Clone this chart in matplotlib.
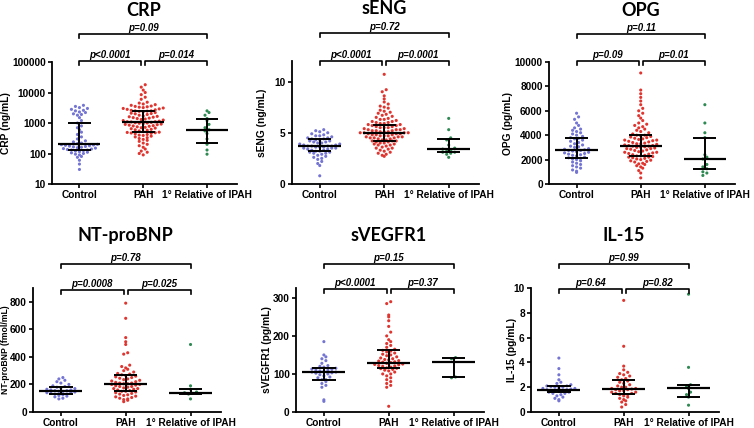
import numpy as np
import matplotlib
matplotlib.use("Agg")
import matplotlib.pyplot as plt
from matplotlib.transforms import blended_transform_factory

W, H = 754, 428
groups = ["Control", "PAH", "1° Relative of IPAH"]
colors = ["#7474d4", "#e0342f", "#2e8a52"]

# ---------------- data ----------------
crp_control = [30, 45, 60, 75, 80, 90, 95, 100, 105, 110, 115, 120, 125, 130, 130, 135, 140, 145,
               150, 155, 160, 165, 170, 175, 180, 185, 190, 195, 200, 210, 220, 240, 260, 300, 350,
               420, 500, 600, 700, 800, 1000, 1200, 1500, 1800, 1900, 2000, 2200, 2300, 2500, 2600,
               2800, 3000, 3200, 3500, 3800]
crp_pah = [90, 100, 110, 120, 140, 160, 180, 200, 220, 250, 270, 290,
           310, 330, 350, 370, 390, 400, 420, 440, 460, 470, 480, 490, 500,
           520, 550, 580, 600, 620, 650, 680, 700, 720, 750, 780, 800, 820, 850, 880, 900, 920, 950,
           980, 1000, 1020, 1050, 1080, 1100, 1100,
           1150, 1200, 1250, 1300, 1350, 1400, 1450, 1500, 1550, 1600, 1650, 1700, 1800, 1900, 2000,
           2050, 2100, 2200, 2300, 2400, 2450, 2500, 2500,
           2600, 2700, 2800, 2900, 3000, 3100, 3200, 3300, 3400, 3500, 3600, 3800, 4000, 4200, 4500, 4800,
           6000, 7000, 8500, 10000, 12000, 15000, 18000]
crp_rel = [95, 130, 200, 220, 300, 450, 550, 600, 700, 900, 1200, 1400, 1800, 2200, 2500]
crp_stats = [(200, 130, 1000), (1100, 500, 2500), (600, 220, 1400)]

seng_control = [0.8, 1.8, 2.0, 2.2, 2.4, 2.5, 2.6, 2.7, 2.8, 2.9, 3.0, 3.0, 3.1, 3.1, 3.2, 3.2, 3.3,
                3.3, 3.4, 3.4, 3.5, 3.5, 3.5, 3.6, 3.6, 3.6, 3.7, 3.7, 3.7, 3.7, 3.8, 3.8, 3.9, 3.9,
                4.0, 4.0, 4.1, 4.1, 4.2, 4.2, 4.3, 4.3, 4.4, 4.4, 4.5, 4.5, 4.6, 4.7, 4.7, 4.8, 4.9,
                5.0, 5.1, 5.2, 5.3]
seng_pah = [2.7, 2.8, 2.9, 3.0, 3.1, 3.2, 3.3, 3.4, 3.5, 3.5, 3.6, 3.7, 3.8, 3.8, 3.9, 3.9, 4.0, 4.0,
            4.1, 4.1, 4.2, 4.2, 4.2, 4.3, 4.3, 4.4, 4.4, 4.5, 4.5, 4.5, 4.6, 4.6, 4.6, 4.7, 4.7, 4.7,
            4.8, 4.8, 4.8, 4.9, 4.9, 4.9, 5.0, 5.0, 5.0, 5.0, 5.1, 5.1, 5.1, 5.2, 5.2, 5.2, 5.3, 5.3,
            5.3, 5.4, 5.4, 5.5, 5.5, 5.5, 5.6, 5.6, 5.7, 5.7, 5.8, 5.8, 5.9, 5.9, 6.0, 6.0, 6.1, 6.1,
            6.2, 6.3, 6.3, 6.4, 6.5, 6.6, 6.7, 6.8, 6.9, 7.0, 7.1, 7.2, 7.4, 7.5, 7.6, 7.8, 8.0, 8.3,
            8.6, 9.0, 9.2, 10.7]
seng_rel = [2.6, 2.9, 3.0, 3.1, 3.1, 3.2, 3.3, 3.4, 3.5, 3.8, 4.3, 4.5, 5.3, 6.4]
seng_stats = [(3.7, 3.2, 4.4), (5.0, 4.2, 5.8), (3.4, 3.1, 4.4)]

opg_control = [950, 1050, 1150, 1300, 1400, 1500, 1600, 1700, 1800, 1900, 2000, 2050, 2100, 2150,
               2200, 2300, 2350, 2400, 2450, 2500, 2550, 2600, 2650, 2700, 2750, 2750, 2800, 2850,
               2900, 3000, 3050, 3100, 3200, 3300, 3400, 3500, 3600, 3700, 3750, 3800, 3900, 4000,
               4100, 4200, 4300, 4400, 4500, 4600, 4800, 5000, 5300, 5500, 5800]
opg_pah = [500, 900, 1100, 1300, 1400, 1500, 1600, 1650, 1700, 1800, 1850, 1900, 1950, 2000, 2050,
           2100, 2150, 2200, 2250, 2300, 2300, 2350, 2400, 2450, 2500, 2550, 2600, 2650, 2700, 2750,
           2800, 2850, 2900, 2950, 3000, 3000, 3050, 3100, 3100, 3150, 3150, 3200, 3250, 3300, 3350,
           3400, 3450, 3500, 3550, 3600, 3650, 3700, 3750, 3800, 3850, 3900, 3950, 4000, 4000, 4100,
           4200, 4300, 4400, 4500, 4600, 4700, 4800, 4900, 5000, 5200, 5400, 5600, 5800, 6000, 6200,
           6500, 6800, 7100, 7400, 7700, 9100, 2200, 2600, 2900, 3300, 3600]
opg_rel = [700, 900, 1000, 1250, 1400, 1600, 2050, 2200, 2400, 3800, 4200, 5000, 6500]
opg_stats = [(2750, 2100, 3750), (3150, 2300, 4000), (2050, 1250, 3800)]

bnp_control = [95, 100, 110, 115, 120, 125, 130, 130, 135, 140, 140, 145, 150, 150, 155, 155, 160,
               160, 165, 170, 175, 180, 185, 190, 200, 210, 220, 230, 240, 250]
bnp_pah = [75, 85, 90, 95, 100, 105, 110, 115, 120, 125, 130, 135, 140, 145, 150, 150, 155, 160, 165,
           170, 170, 175, 180, 185, 185, 190, 195, 200, 200, 205, 205, 210, 210, 215, 220, 225, 230,
           235, 240, 245, 250, 255, 260, 265, 270, 275, 280, 290, 300, 310, 320, 330, 340, 420, 430,
           490, 510, 540, 680, 790]
bnp_rel = [95, 130, 135, 140, 145, 165, 190, 490]
bnp_stats = [(155, 130, 180), (205, 150, 270), (140, 130, 165)]

vegf_control = [28, 32, 65, 70, 75, 80, 85, 85, 90, 92, 95, 98, 100, 102, 103, 105, 105, 107, 108,
                110, 110, 112, 113, 115, 118, 120, 122, 128, 135, 140, 145, 150, 185]
vegf_pah = [15, 65, 70, 75, 80, 85, 90, 95, 100, 100, 105, 108, 110, 112, 114, 115, 116, 118, 120,
            121, 122, 124, 125, 126, 128, 130, 131, 132, 134, 135, 137, 138, 140, 142, 145, 148, 150,
            152, 155, 158, 160, 162, 165, 170, 175, 180, 185, 190, 200, 210, 225, 240, 250, 255, 285,
            290]
vegf_rel = [90, 92, 140, 143]
vegf_stats = [(105, 85, 115), (130, 115, 163), (132, 92, 142)]

il15_control = [0.9, 1.0, 1.1, 1.2, 1.3, 1.4, 1.5, 1.5, 1.6, 1.6, 1.65, 1.7, 1.7, 1.75, 1.8, 1.8,
                1.85, 1.9, 1.9, 1.95, 2.0, 2.0, 2.05, 2.1, 2.1, 2.2, 2.3, 2.4, 2.6, 3.0, 3.5, 4.35]
il15_pah = [0.4, 0.6, 0.8, 0.9, 1.0, 1.1, 1.2, 1.3, 1.4, 1.4, 1.5, 1.5, 1.6, 1.6, 1.7, 1.7, 1.8, 1.8,
            1.85, 1.9, 1.9, 2.0, 2.0, 2.1, 2.2, 2.3, 2.4, 2.5, 2.6, 2.7, 2.8, 2.9, 3.0, 3.1, 3.2, 3.4,
            3.7, 5.3, 9.0]
il15_rel = [0.55, 1.2, 1.4, 1.6, 1.9, 2.1, 2.2, 3.6, 9.5]
il15_stats = [(1.8, 1.6, 2.1), (1.85, 1.45, 2.6), (1.9, 1.2, 2.2)]

titles = ["CRP", "sENG", "OPG", "NT-proBNP", "sVEGFR1", "IL-15"]
ylabels = ["CRP (ng/mL)", "sENG (ng/mL)", "OPG (pg/mL)", "NT-proBNP (fmol/mL)",
           "sVEGFR1 (pg/mL)", "IL-15 (pg/mL)"]
pvals = [("p<0.0001", "p=0.014", "p=0.09"),
         ("p<0.0001", "p=0.0001", "p=0.72"),
         ("p=0.09", "p=0.01", "p=0.11"),
         ("p=0.0008", "p=0.025", "p=0.78"),
         ("p<0.0001", "p=0.37", "p=0.15"),
         ("p=0.64", "p=0.82", "p=0.99")]

# ---------------- layout / style ----------------
panels = [
    dict(data=[crp_control, crp_pah, crp_rel], stats=crp_stats, log=True, ylim=(10, 100000),
         yticks=[10, 100, 1000, 10000, 100000], rect=(52, 62, 185, 122), brk=(61, 34), ylx=11,
         yfs=7.4),
    dict(data=[seng_control, seng_pah, seng_rel], stats=seng_stats, log=False, ylim=(0, 12),
         yticks=[0, 5, 10], rect=(292, 61, 187, 123), brk=(61, 33), ylx=267, yfs=7.4),
    dict(data=[opg_control, opg_pah, opg_rel], stats=opg_stats, log=False, ylim=(0, 10000),
         yticks=[0, 2000, 4000, 6000, 8000, 10000], rect=(549, 62, 186, 122), brk=(61, 34), ylx=513,
         yfs=7.4),
    dict(data=[bnp_control, bnp_pah, bnp_rel], stats=bnp_stats, log=False, ylim=(0, 900),
         yticks=[0, 200, 400, 600, 800], rect=(33, 288, 188, 124), brk=(290, 264), ylx=9.5,
         yfs=6.2),
    dict(data=[vegf_control, vegf_pah, vegf_rel], stats=vegf_stats, log=False, ylim=(0, 326),
         yticks=[0, 100, 200, 300], rect=(296, 288, 188, 124), brk=(289, 264), ylx=272, yfs=7.4),
    dict(data=[il15_control, il15_pah, il15_rel], stats=il15_stats, log=False, ylim=(0, 10),
         yticks=[0, 2, 4, 6, 8, 10], rect=(531, 288, 188, 124), brk=(289, 264), ylx=517, yfs=7.4),
]

plt.rcParams['font.family'] = ['Liberation Sans', 'DejaVu Sans']
fig = plt.figure(figsize=(W / 100, H / 100), dpi=100)

XLIM = (-0.43, 2.47)
BH = 4.0   # row height of the swarm, pixels
DX = 4.0   # horizontal spacing inside a row, pixels


def swarm(ypix):
    xs = np.zeros(len(ypix))
    bins = np.floor(ypix / BH).astype(int)
    for b in np.unique(bins):
        idx = np.where(bins == b)[0]
        n = len(idx)
        order = idx[np.argsort(ypix[idx])]
        slots = [(i - (n - 1) / 2) * DX for i in range(n)]
        slots = sorted(slots, key=lambda s: abs(s))
        for j, i in enumerate(order):
            xs[i] = slots[j]
    return xs


def fy(ypx):
    return 1 - ypx / H


for k, p in enumerate(panels):
    l, t, w, h = p["rect"]
    ax = fig.add_axes([l / W, 1 - (t + h) / H, w / W, h / H])
    if p["log"]:
        ax.set_yscale("log")
        ax.minorticks_off()
    ax.set_ylim(*p["ylim"])
    ax.set_xlim(*XLIM)
    ax.set_yticks(p["yticks"])
    ax.set_yticklabels([f"{v:g}" if v < 1e5 else "100000" for v in p["yticks"]])
    ax.set_xticks([0, 1, 2])
    ax.set_xticklabels(groups)
    for s in ["top", "right"]:
        ax.spines[s].set_visible(False)
    for s in ["left", "bottom"]:
        ax.spines[s].set_linewidth(1.3)
    ax.tick_params(axis="both", length=3, width=1.2, labelsize=7.3, pad=1.5)
    for lab in ax.get_xticklabels() + ax.get_yticklabels():
        lab.set_fontweight("bold")
    ax.set_ylabel(ylabels[k], fontsize=p["yfs"], fontweight="bold")
    ax.yaxis.set_label_coords((p["ylx"] - l) / w, 0.5)

    px_per_x = w / (XLIM[1] - XLIM[0])
    for g in range(3):
        vals = np.array(p["data"][g], dtype=float)
        ypix = ax.transData.transform(np.column_stack([np.zeros_like(vals), vals]))[:, 1]
        offs = swarm(ypix) / px_per_x
        ax.scatter(g + offs, vals, s=5, color=colors[g], edgecolors="none", zorder=2,
                   clip_on=False)
        med, q1, q3 = p["stats"][g]
        ax.plot([g - 0.33, g + 0.33], [med, med], color="black", lw=1.6, zorder=3,
                solid_capstyle="butt")
        ax.plot([g - 0.18, g + 0.18], [q1, q1], color="black", lw=1.4, zorder=3,
                solid_capstyle="butt")
        ax.plot([g - 0.18, g + 0.18], [q3, q3], color="black", lw=1.4, zorder=3,
                solid_capstyle="butt")
        ax.plot([g, g], [q1, q3], color="black", lw=1.4, zorder=3)

    tr = blended_transform_factory(ax.transData, fig.transFigure)
    low, up = p["brk"]
    tick = 4

    def bracket(x1, x2, y, text):
        ax.plot([x1, x1, x2, x2], [fy(y + tick), fy(y), fy(y), fy(y + tick)], transform=tr,
                color="black", lw=1.2, clip_on=False)
        ax.text((x1 + x2) / 2, fy(y - 3), text, transform=tr, ha="center", va="baseline",
                fontsize=7, fontweight="bold", fontstyle="italic")

    pv = pvals[k]
    bracket(0, 0.97, low, pv[0])
    bracket(1.03, 2, low, pv[1])
    bracket(0, 2, up, pv[2])

    fig.text((l + (1 - XLIM[0]) * px_per_x) / W, fy(t - 52), titles[k], ha="center",
             va="center", fontsize=13, fontweight="bold", family=["Lato", "DejaVu Sans"])

fig.savefig("out.png", dpi=100)
